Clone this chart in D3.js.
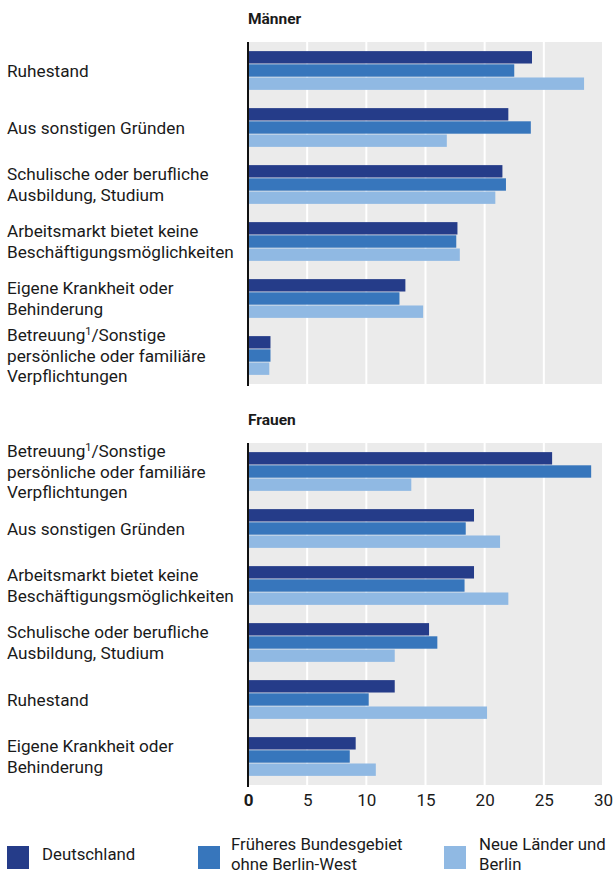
<!DOCTYPE html>
<html>
<head>
<meta charset="utf-8">
<script src="https://cdn.jsdelivr.net/npm/d3@7"></script>
<style>
  body { margin: 0; background: #fff; }
  svg text { font-family: Roboto, "Open Sans", sans-serif; fill: #1a1a1a; }
</style>
</head>
<body>
<div id="chart"></div>
<script>
// data
var seriesNames = ["Deutschland", "Früheres Bundesgebiet|ohne Berlin-West", "Neue Länder und|Berlin"];
var seriesColours = ["#253c89", "#3776bc", "#90b9e3"];

var menCategories = ["Ruhestand", "Aus sonstigen Gründen", "Schulische oder berufliche|Ausbildung, Studium",
  "Arbeitsmarkt bietet keine|Beschäftigungsmöglichkeiten", "Eigene Krankheit oder|Behinderung",
  "Betreuung^1/Sonstige|persönliche oder familiäre|Verpflichtungen"];
var menDeutschland = [24.0, 22.0, 21.5, 17.7, 13.3, 1.9];
var menFrueheres   = [22.5, 23.9, 21.8, 17.6, 12.8, 1.9];
var menNeue        = [28.4, 16.8, 20.9, 17.9, 14.8, 1.8];

var womenCategories = ["Betreuung^1/Sonstige|persönliche oder familiäre|Verpflichtungen", "Aus sonstigen Gründen",
  "Arbeitsmarkt bietet keine|Beschäftigungsmöglichkeiten", "Schulische oder berufliche|Ausbildung, Studium",
  "Ruhestand", "Eigene Krankheit oder|Behinderung"];
var womenDeutschland = [25.7, 19.1, 19.1, 15.3, 12.4, 9.1];
var womenFrueheres   = [29.0, 18.4, 18.3, 16.0, 10.2, 8.6];
var womenNeue        = [13.8, 21.3, 22.0, 12.4, 20.2, 10.8];

var tickValues = [0, 5, 10, 15, 20, 25, 30];

var svgWidth = 615, svgHeight = 874;
var svg = d3.select("#chart").append("svg").attr("width", svgWidth).attr("height", svgHeight);

var x = d3.scaleLinear().domain([0, 30]).range([248, 603]);

// write a label with "|" line breaks and "^1" superscripts
function multiLine(sel, label, xPos, yCentre, lineH, size) {
  var lines = label.split("|");
  var y0 = yCentre + 6 - (lines.length - 1) * lineH / 2;
  lines.forEach(function(line, k) {
    var t = sel.append("text").attr("x", xPos).attr("y", y0 + k * lineH).style("font-size", size + "px");
    var parts = line.split("^1");
    t.append("tspan").text(parts[0]);
    if (parts.length > 1) {
      t.append("tspan").attr("dy", -6).style("font-size", "11px").text("1");
      t.append("tspan").attr("dy", 6).text(parts[1]);
    }
  });
}

function panel(title, cats, vals, top, bottom) {
  var g = svg.append("g");
  var y = d3.scaleBand().domain(cats.map(function(d, i) { return i; })).range([top, bottom])
    .paddingInner(0.32).paddingOuter(0.16);
  var yInner = d3.scaleBand().domain([0, 1, 2]).range([0, y.bandwidth()]).paddingInner(0.06);

  g.append("rect").attr("x", x(0)).attr("y", top).attr("width", x(30) - x(0)).attr("height", bottom - top)
    .attr("fill", "#ebebeb");
  g.selectAll(".grid").data(tickValues.slice(1)).enter().append("line")
    .attr("x1", function(d) { return x(d); }).attr("x2", function(d) { return x(d); })
    .attr("y1", top).attr("y2", bottom).attr("stroke", "#fff").attr("stroke-width", 2);

  cats.forEach(function(c, i) {
    vals.forEach(function(s, j) {
      g.append("rect")
        .attr("x", x(0)).attr("y", y(i) + yInner(j))
        .attr("width", x(s[i]) - x(0)).attr("height", yInner.bandwidth())
        .attr("fill", seriesColours[j]);
    });
    multiLine(g, c, 7, y(i) + y.bandwidth() / 2, 20.5, 17.2);
  });

  g.append("line").attr("x1", x(0)).attr("x2", x(0)).attr("y1", top).attr("y2", bottom + 2)
    .attr("stroke", "#111").attr("stroke-width", 2);

  g.append("text").attr("x", x(0)).attr("y", top - 18).style("font-size", "15.5px")
    .style("font-weight", "bold").text(title);
}

panel("Männer", menCategories, [menDeutschland, menFrueheres, menNeue], 42, 384);
panel("Frauen", womenCategories, [womenDeutschland, womenFrueheres, womenNeue], 443, 785);

// x axis ticks under the women panel
var xAxis = d3.axisBottom(x).tickValues(tickValues).tickSize(0).tickPadding(0);
var ax = svg.append("g").attr("transform", "translate(0,794)").call(xAxis);
ax.select(".domain").remove();
ax.selectAll("text").style("font-size", "17px").attr("dy", "0.71em")
  .style("font-weight", function(d) { return d === 0 ? "bold" : "normal"; });

// legend
var legendX = [7, 198, 444];
var legendTextX = [42, 231, 479];
seriesNames.forEach(function(name, i) {
  svg.append("rect").attr("x", legendX[i]).attr("y", 846).attr("width", 22).attr("height", 23)
    .attr("fill", seriesColours[i]);
  multiLine(svg, name, legendTextX[i], 854, 20, 16.8);
});
</script>
</body>
</html>
